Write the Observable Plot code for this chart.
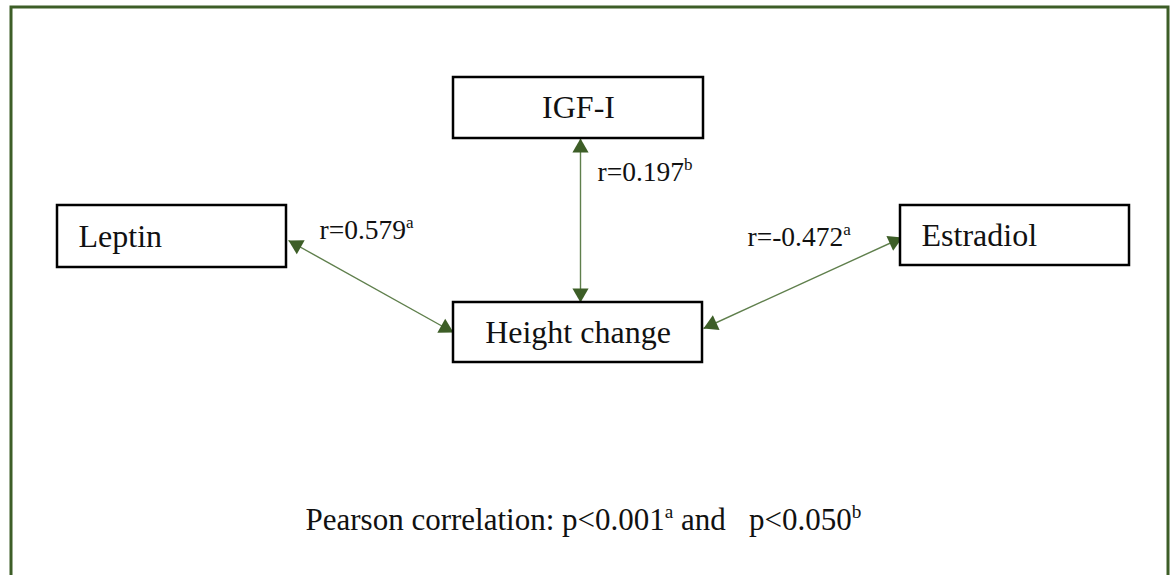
<!DOCTYPE html>
<html>
<head>
<meta charset="utf-8">
<script src="https://cdn.jsdelivr.net/npm/d3@7"></script>
<script src="https://cdn.jsdelivr.net/npm/@observablehq/plot@0.6"></script>
<style>
  html, body { margin: 0; padding: 0; background: #fff; overflow: hidden; }
  #chart { width: 1171px; height: 575px; overflow: hidden; }
</style>
</head>
<body>
<div id="chart"></div>
<script>
// ---- data ----
const nodes = ["IGF-I", "Leptin", "Estradiol", "Height change"];
const edgeFrom = ["IGF-I", "Leptin", "Estradiol"];
const edgeTo = ["Height change", "Height change", "Height change"];
const edgeR = [0.197, 0.579, -0.472];
const edgeSig = ["b", "a", "a"];
const footnote = "Pearson correlation: p<0.001^a and   p<0.050^b";

// ---- diagram layout (pixel space of the 1171x575 canvas) ----
const nodeLeft = [453, 57, 900, 453];
const nodeRight = [703, 286, 1129, 702];
const nodeTop = [77, 205, 205, 302];
const nodeBottom = [138, 267, 265, 362];
const nodeAlign = ["middle", "start", "start", "middle"];
const edgeStart = [[580, 138], [288, 240], [902, 237]];
const edgeEnd = [[580, 302], [453, 332], [703, 328]];
const edgeLabelPos = [[597, 180], [319, 238], [747, 245]];
const footPos = [305, 529];

const W = 1171, H = 575;
const green = "#3d5e27";
const lineGreen = "#5f7f4c";
const fontFamily = "'Liberation Serif', 'DejaVu Serif', serif";

const boxes = nodes.map((name, i) => ({
  name, x1: nodeLeft[i], x2: nodeRight[i], y1: nodeTop[i], y2: nodeBottom[i],
  align: nodeAlign[i],
  lx: nodeAlign[i] === "middle" ? (nodeLeft[i] + nodeRight[i]) / 2 : nodeLeft[i] + 21,
  ly: (nodeTop[i] + nodeBottom[i]) / 2
}));

const edges = edgeFrom.map((f, i) => ({
  from: f, to: edgeTo[i],
  x1: edgeStart[i][0], y1: edgeStart[i][1], x2: edgeEnd[i][0], y2: edgeEnd[i][1],
  label: `r=${edgeR[i].toFixed(3)}^${edgeSig[i]}`,
  lx: edgeLabelPos[i][0], ly: edgeLabelPos[i][1]
}));

// arrow heads: one at each end of each edge
const headR = 6;
const headSize = Math.PI * headR * headR;
const headHalf = Math.sqrt(headSize / (3 * Math.sqrt(3))); // d3 triangle centroid-to-base
const heads = [];
for (const e of edges) {
  for (const [tx, ty, ox, oy] of [[e.x2, e.y2, e.x1, e.y1], [e.x1, e.y1, e.x2, e.y2]]) {
    const dx = tx - ox, dy = ty - oy, len = Math.hypot(dx, dy);
    const ux = dx / len, uy = dy / len;
    heads.push({
      x: tx - ux * 2 * headHalf,
      y: ty - uy * 2 * headHalf,
      angle: Math.atan2(dx, -dy) * 180 / Math.PI
    });
  }
}

const chart = Plot.plot({
  width: W,
  height: H,
  margin: 0,
  x: {domain: [0, W], range: [0, W], axis: null},
  y: {domain: [0, H], range: [0, H], axis: null},
  style: {background: "#fff", fontFamily},
  marks: [
    // outer frame
    Plot.rect([{x1: 11, x2: 1168, y1: 7, y2: 600}], {
      x1: "x1", x2: "x2", y1: "y1", y2: "y2",
      fill: "none", stroke: green, strokeWidth: 3
    }),
    // connecting lines
    Plot.link(edges, {
      x1: "x1", y1: "y1", x2: "x2", y2: "y2",
      stroke: lineGreen, strokeWidth: 1.4
    }),
    // arrow heads
    Plot.dot(heads, {
      x: "x", y: "y", rotate: "angle", symbol: "triangle", r: headR,
      fill: green, stroke: "none"
    }),
    // boxes
    Plot.rect(boxes, {
      x1: "x1", x2: "x2", y1: "y1", y2: "y2",
      fill: "#fff", stroke: "#000", strokeWidth: 2.5
    }),
    Plot.text(boxes.filter(d => d.align === "middle"), {
      x: "lx", y: "ly", text: "name", textAnchor: "middle", lineAnchor: "middle",
      fontSize: 32, fill: "#111", fontFamily
    }),
    Plot.text(boxes.filter(d => d.align === "start"), {
      x: "lx", y: "ly", text: "name", textAnchor: "start", lineAnchor: "middle",
      fontSize: 32, fill: "#111", fontFamily
    }),
    // correlation labels
    Plot.text(edges, {
      x: "lx", y: "ly", text: "label", textAnchor: "start", lineAnchor: "bottom",
      fontSize: 27.5, fill: "#111", fontFamily
    }),
    // footnote
    Plot.text([footnote], {
      x: () => footPos[0], y: () => footPos[1], text: d => d,
      textAnchor: "start", lineAnchor: "bottom",
      fontSize: 31, fill: "#111", fontFamily
    })
  ]
});

// turn "^x" markers into superscript tspans
d3.select(chart).selectAll("text").each(function () {
  const t = this.textContent;
  if (!t.includes("^")) return;
  const sel = d3.select(this);
  sel.text(null).style("white-space", "pre").attr("xml:space", "preserve");
  const parts = t.split(/\^(\w)/);
  let raised = false;
  parts.forEach((p, i) => {
    if (p === "") return;
    if (i % 2 === 1) {
      sel.append("tspan").attr("font-size", "62%").attr("dy", "-0.62em").text(p);
      raised = true;
    } else {
      const ts = sel.append("tspan").text(p);
      if (raised) { ts.attr("dy", "0.385em"); raised = false; }
    }
  });
});

document.getElementById("chart").appendChild(chart);
</script>
</body>
</html>
